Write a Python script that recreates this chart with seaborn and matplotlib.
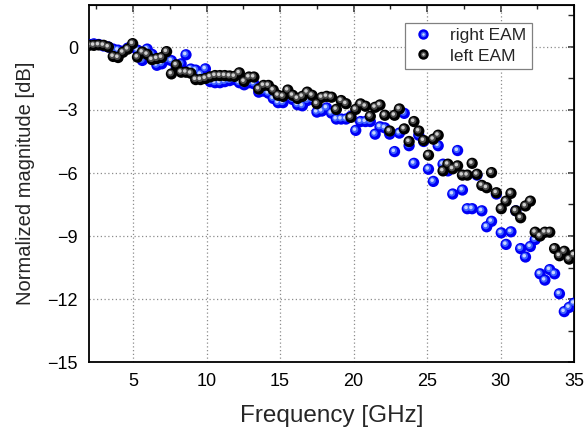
import numpy as np
import pandas as pd
import matplotlib
matplotlib.use("Agg")
import matplotlib.pyplot as plt
import seaborn as sns
from matplotlib.ticker import MultipleLocator
from matplotlib.transforms import offset_copy
from matplotlib.lines import Line2D
from matplotlib.legend_handler import HandlerTuple

freq_ghz = [2.00, 2.33, 2.66, 2.99, 3.32, 3.65, 3.98, 4.31, 4.64, 4.97,
            5.30, 5.63, 5.96, 6.29, 6.62, 6.95, 7.28, 7.61, 7.94, 8.27,
            8.60, 8.93, 9.26, 9.59, 9.92, 10.25, 10.58, 10.91, 11.24, 11.57,
            11.90, 12.23, 12.56, 12.89, 13.22, 13.55, 13.88, 14.21, 14.54, 14.87,
            15.20, 15.53, 15.86, 16.19, 16.52, 16.85, 17.18, 17.51, 17.84, 18.17,
            18.50, 18.83, 19.16, 19.49, 19.82, 20.15, 20.48, 20.81, 21.14, 21.47,
            21.80, 22.13, 22.46, 22.79, 23.12, 23.45, 23.78, 24.11, 24.44, 24.77,
            25.10, 25.43, 25.76, 26.09, 26.42, 26.75, 27.08, 27.41, 27.74, 28.07,
            28.40, 28.73, 29.06, 29.39, 29.72, 30.05, 30.38, 30.71, 31.04, 31.37,
            31.70, 32.03, 32.36, 32.69, 33.02, 33.35, 33.68, 34.01, 34.34, 34.67,
            35.00]

right_eam_db = [0.12, 0.15, 0.12, 0.05, 0.00, -0.10, -0.15, -0.20, -0.05, 0.00,
                -0.15, -0.64, -0.10, -0.35, -0.87, -0.80, -0.60, -0.65, -0.95, -0.80,
                -0.37, -1.05, -1.10, -1.30, -1.04, -1.65, -1.70, -1.70, -1.65, -1.60,
                -1.55, -1.70, -1.80, -1.70, -1.75, -2.15, -2.10, -2.20, -2.45, -2.65,
                -2.65, -2.40, -2.50, -2.75, -2.80, -2.55, -2.50, -3.10, -3.05, -2.90,
                -3.15, -3.43, -3.43, -3.43, -3.30, -3.97, -3.55, -3.55, -3.55, -4.15,
                -3.80, -3.85, -4.15, -4.98, -4.10, -3.16, -4.70, -5.54, -4.20, -4.50,
                -5.82, -6.40, -4.70, -5.58, -5.90, -7.00, -4.93, -6.81, -7.70, -7.70,
                -6.10, -7.80, -8.56, -8.30, -7.00, -8.85, -9.40, -8.80, -7.80, -9.60,
                -10.00, -9.50, -9.17, -10.80, -11.10, -10.60, -10.80, -11.75, -12.60, -12.40,
                -12.20]

left_eam_db = [0.08, 0.08, 0.10, 0.08, 0.00, -0.45, -0.50, -0.25, -0.10, 0.16,
               -0.48, -0.24, -0.35, -0.60, -0.55, -0.50, -0.22, -1.28, -0.85, -1.20,
               -1.20, -1.25, -1.55, -1.55, -1.50, -1.42, -1.36, -1.36, -1.36, -1.38,
               -1.40, -1.23, -1.64, -1.43, -1.43, -2.00, -1.83, -1.83, -2.05, -2.30,
               -2.35, -2.05, -2.30, -2.45, -2.35, -2.15, -2.30, -2.70, -2.40, -2.35,
               -2.39, -2.97, -2.55, -2.70, -3.35, -2.97, -2.71, -2.82, -3.30, -2.87,
               -2.76, -3.25, -4.00, -3.25, -2.95, -3.90, -4.50, -3.55, -4.00, -4.45,
               -5.15, -4.39, -4.20, -5.90, -5.58, -5.80, -5.66, -6.10, -6.10, -5.54,
               -6.06, -6.59, -6.70, -5.98, -6.94, -7.70, -7.34, -6.97, -7.80, -8.13,
               -7.57, -7.34, -8.82, -9.00, -8.82, -8.82, -9.60, -9.94, -9.73, -10.10,
               -9.90]

series_names = ["right EAM", "left EAM"]
x_ticks = [5, 10, 15, 20, 25, 30, 35]
y_ticks = [0, -3, -6, -9, -12, -15]

df = pd.concat([
    pd.DataFrame({"freq": freq_ghz, "mag": right_eam_db, "series": series_names[0]}),
    pd.DataFrame({"freq": freq_ghz, "mag": left_eam_db, "series": series_names[1]}),
], ignore_index=True)

sns.set_style("white")
plt.rcParams["font.family"] = ["Liberation Sans", "DejaVu Sans"]

fig = plt.figure(figsize=(5.87, 4.36), dpi=100)
ax = fig.add_axes([89 / 587, 1 - 362 / 436, (574 - 89) / 587, (362 - 5) / 436])

styles = {
    "right EAM": dict(base="#0000f5", mid="#3f63ff", hi="#c8d6ff"),
    "left EAM": dict(base="#000000", mid="#4a4a4a", hi="#cfcfcf"),
}
S = 66
for name in series_names:
    sub = df[df["series"] == name]
    st = styles[name]
    sns.scatterplot(data=sub, x="freq", y="mag", color=st["base"], s=S,
                    edgecolor="none", linewidth=0, ax=ax, legend=False, zorder=3)
    sns.scatterplot(data=sub, x="freq", y="mag", color=st["mid"], s=S * 0.35,
                    edgecolor="none", linewidth=0, ax=ax, legend=False, zorder=3,
                    transform=offset_copy(ax.transData, fig=fig, x=-0.6, y=0.6, units="points"))
    sns.scatterplot(data=sub, x="freq", y="mag", color=st["hi"], s=S * 0.1,
                    edgecolor="none", linewidth=0, ax=ax, legend=False, zorder=3,
                    transform=offset_copy(ax.transData, fig=fig, x=-0.9, y=0.9, units="points"))

ax.set_xlim(2, 35)
ax.set_ylim(-15, 2)
ax.set_xticks(x_ticks)
ax.set_yticks(y_ticks)
ax.xaxis.set_minor_locator(MultipleLocator(2.5))
ax.yaxis.set_minor_locator(MultipleLocator(1.5))
ax.tick_params(which="major", direction="out", length=5, width=1.1, labelsize=13,
               color="black", labelcolor="black", pad=3)
ax.tick_params(which="minor", direction="out", length=3, width=1.0, color="black")
ax.grid(True, which="major", color="#8c8c8c", linestyle=(0, (1, 2)), linewidth=0.9)
for sp in ax.spines.values():
    sp.set_visible(True)
    sp.set_color("black")
    sp.set_linewidth(1.3)

secx = ax.secondary_xaxis("top")
secx.set_xticks(x_ticks)
secx.xaxis.set_minor_locator(MultipleLocator(2.5))
secx.tick_params(which="major", direction="in", length=5, width=1.1, labeltop=False)
secx.tick_params(which="minor", direction="in", length=3, width=1.0)
secy = ax.secondary_yaxis("right")
secy.set_yticks(y_ticks)
secy.yaxis.set_minor_locator(MultipleLocator(1.5))
secy.tick_params(which="major", direction="in", length=4, width=1.1, labelright=False)
secy.tick_params(which="minor", direction="in", length=4, width=1.0)

ax.set_xlabel("Frequency [GHz]", fontsize=17.5, labelpad=11)
ax.set_ylabel("Normalized magnitude [dB]", fontsize=14.5, labelpad=9)

handles = []
for name in series_names:
    st = styles[name]
    h1 = Line2D([], [], linestyle="none", marker="o", markersize=7.5,
                markerfacecolor=st["base"], markeredgecolor="none")
    h2 = Line2D([], [], linestyle="none", marker="o", markersize=4,
                markerfacecolor=st["mid"], markeredgecolor="none")
    h3 = Line2D([], [], linestyle="none", marker="o", markersize=1.8,
                markerfacecolor=st["hi"], markeredgecolor="none")
    handles.append((h1, h2, h3))
leg = ax.legend(handles, series_names, handler_map={tuple: HandlerTuple(ndivide=1)},
                loc="upper right", bbox_to_anchor=(0.913, 0.950), borderaxespad=0,
                fontsize=12.5, frameon=True, fancybox=False, framealpha=1,
                edgecolor="#808080", handlelength=1.4, handletextpad=0.9,
                labelspacing=0.3, borderpad=0.3)
leg.get_frame().set_linewidth(0.9)

fig.savefig("out.png", dpi=100)
